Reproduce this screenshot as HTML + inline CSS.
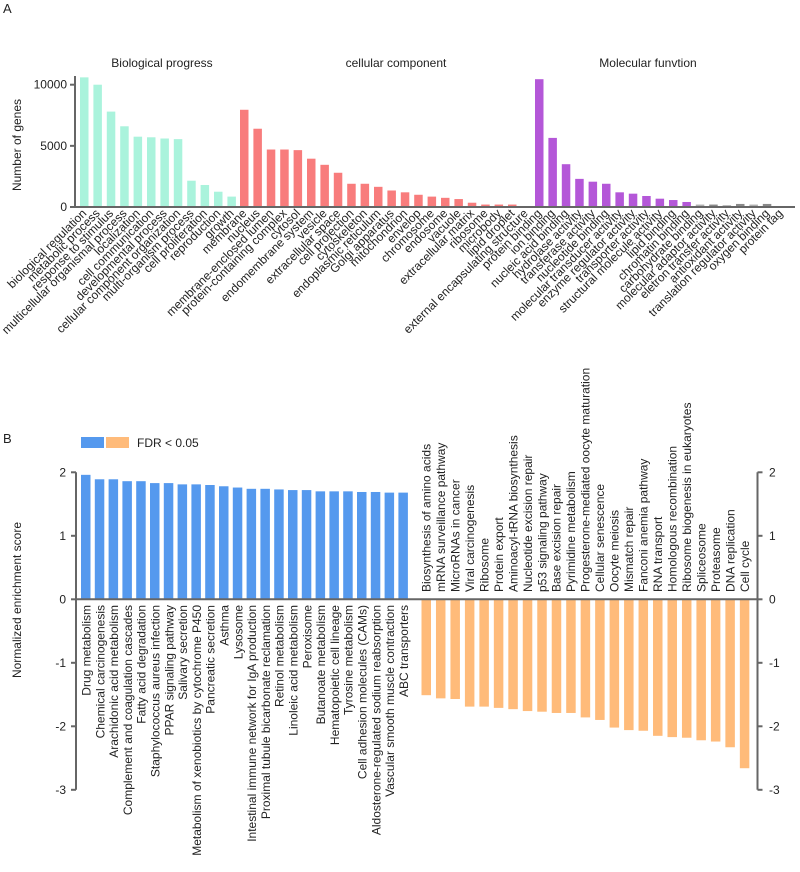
<!DOCTYPE html>
<html><head><meta charset="utf-8">
<style>
html,body{margin:0;padding:0;background:#fff;}
svg{display:block;font-family:"Liberation Sans",Arial,sans-serif;}
</style></head>
<body>
<svg id="chart" width="800" height="872" viewBox="0 0 800 872" xmlns="http://www.w3.org/2000/svg">
<text x="3" y="13" font-size="13" fill="#222">A</text>
<text x="3" y="443" font-size="13" fill="#222">B</text>
<text x="162" y="67" font-size="12" text-anchor="middle" fill="#222">Biological progress</text>
<text x="396" y="67" font-size="12" text-anchor="middle" fill="#222">cellular component</text>
<text x="648" y="67" font-size="12" text-anchor="middle" fill="#222">Molecular funvtion</text>
<text transform="translate(21,145) rotate(-90)" font-size="12" text-anchor="middle" fill="#222">Number of genes</text>
<text transform="translate(21,600) rotate(-90)" font-size="12" text-anchor="middle" fill="#222">Normalized enrichment score</text>
<rect x="81" y="437" width="23" height="11" fill="#5599ee"/>
<rect x="106" y="437" width="23" height="11" fill="#ffbb7a"/>
<text x="137" y="447" font-size="12" fill="#222">FDR &lt; 0.05</text>
<g id="ga"></g>
<g id="gb"></g>
</svg>
<script>
const bpLabels=["biological regulation","metabolic process","response to stimulus","multicellular organismal process","localization","cell communication","developmental process","cellular component organization","multi-organism process","cell proliferation","reproduction","growth"];
const bpValues=[10600,10000,7800,6600,5750,5700,5600,5550,2150,1800,1250,850];
const ccLabels=["membrane","nucleus","membrane-enclosed lumen","protein-containing complex","cytosol","endomembrane system","vesicle","extracellular space","cell projection","cytoskeleton","endoplasmic reticulum","Golgi apparatus","mitochondrion","envelop","chromosome","endosome","vacuole","extracellular matrix","ribosome","microbody","lipid droplet","external encapsulating structure"];
const ccValues=[7950,6400,4700,4700,4650,3950,3450,2800,1900,1900,1650,1350,1200,1000,850,750,650,350,200,200,200,0];
const mfLabels=["protein binding","ion binding","nucleic acid binding","hydrolase activity","transferase activity","nucleotide binding","molecular transducer activity","enzyme regulator activity","transporter activity","structural molecule activity","lipid binding","chromatin binding","carbohydrate binding","molecular adaptor activity","eletron transfer activity","antioxidant activity","translation regulator activity","oxygen binding","protein tag"];
const mfValues=[10450,5650,3500,2300,2070,1900,1200,1090,900,680,570,410,200,200,150,250,200,250,0];
const aTicks=[0,5000,10000];

const upLabels=["Drug metabolism","Chemical carcinogenesis","Arachidonic acid metabolism","Complement and coagulation cascades","Fatty acid degradation","Staphylococcus aureus infection","PPAR signaling pathway","Salivary secretion","Metabolism of xenobiotics by cytochrome P450","Pancreatic secretion","Asthma","Lysosome","Intestinal immune network for IgA production","Proximal tubule bicarbonate reclamation","Retinol metabolism","Linoleic acid metabolism","Peroxisome","Butanoate metabolism","Hematopoietic cell lineage","Tyrosine metabolism","Cell adhesion molecules (CAMs)","Aldosterone-regulated sodium reabsorption","Vascular smooth muscle contraction","ABC transporters"];
const upValues=[1.96,1.89,1.89,1.86,1.86,1.83,1.83,1.81,1.81,1.80,1.78,1.76,1.74,1.74,1.73,1.72,1.72,1.70,1.70,1.70,1.69,1.69,1.68,1.68];
const downLabels=["Biosynthesis of amino acids","mRNA surveillance pathway","MicroRNAs in cancer","Viral carcinogenesis","Ribosome","Protein export","Aminoacyl-tRNA biosynthesis","Nucleotide excision repair","p53 signaling pathway","Base excision repair","Pyrimidine metabolism","Progesterone-mediated oocyte maturation","Cellular senescence","Oocyte meiosis","Mismatch repair","Fanconi anemia pathway","RNA transport","Homologous recombination","Ribosome biogenesis in eukaryotes","Spliceosome","Proteasome","DNA replication","Cell cycle"];
const downValues=[-1.51,-1.56,-1.57,-1.69,-1.69,-1.71,-1.73,-1.76,-1.77,-1.79,-1.79,-1.86,-1.90,-2.02,-2.06,-2.07,-2.15,-2.17,-2.18,-2.22,-2.24,-2.33,-2.66];
const bTicks=[-3,-2,-1,0,1,2];

const NS="http://www.w3.org/2000/svg";
function mk(parent,tag,attrs,text){const e=document.createElementNS(NS,tag);for(const k in attrs)e.setAttribute(k,attrs[k]);if(text!==undefined)e.textContent=text;parent.appendChild(e);return e;}

// Panel A
const ga=document.getElementById('ga');
const yA=v=>207-v*0.01223;
const stepA=13.4,bw=8.5;
const groups=[
 {labels:bpLabels,values:bpValues,x0:80,color:()=> "#aaf3dc",name:"bp"},
 {labels:ccLabels,values:ccValues,x0:240,color:()=> "#f87c7c",name:"cc"},
 {labels:mfLabels,values:mfValues,x0:535,color:i=> i<12?"#b457d8":(i%2===1?"#8a8a8a":"#b0b0b0"),name:"mf"}
];
groups.forEach(g=>{
 g.values.forEach((v,i)=>{
  const x=g.x0+i*stepA;
  const r=mk(ga,'rect',{x:x,y:yA(v),width:bw,height:207-yA(v),fill:g.color(i)});
  
  
  const cx=x+bw/2+3, cy=214;
  const t=mk(ga,'text',{transform:`translate(${cx},${cy}) rotate(-45)`,'font-size':12,'text-anchor':'end',fill:'#222'},g.labels[i]);
  
  
 });
});
const axA=mk(ga,'path',{d:`M75,76 V207 H795`,stroke:'#666','stroke-width':2,fill:'none'});


aTicks.forEach(t=>{
 mk(ga,'line',{x1:70,x2:75,y1:yA(t),y2:yA(t),stroke:'#666','stroke-width':2});
 const tl=mk(ga,'text',{x:67,y:yA(t)+4,'font-size':12,'text-anchor':'end',fill:'#222'},String(t));
 
 
});

// Panel B
const gb=document.getElementById('gb');
const yB=v=>599.3-v*63.5;
upValues.forEach((v,i)=>{
 const x=81+i*13.8;
 const r=mk(gb,'rect',{x:x,y:yB(v),width:9.5,height:yB(0)-yB(v),fill:'#5599ee'});
 
 
 const t=mk(gb,'text',{transform:`translate(${x+9.5},605) rotate(-90)`,'font-size':12,'text-anchor':'end',fill:'#222'},upLabels[i]);
 
 
});
downValues.forEach((v,i)=>{
 const x=421.5+i*14.47;
 const r=mk(gb,'rect',{x:x,y:yB(0),width:9.5,height:yB(v)-yB(0),fill:'#ffbb7a'});
 
 
 const t=mk(gb,'text',{transform:`translate(${x+9},592) rotate(-90)`,'font-size':12,'text-anchor':'start',fill:'#222'},downLabels[i]);
 
 
});
const axB=mk(gb,'path',{d:`M76,${yB(2)} V${yB(-3)} M76,${yB(0)} H757.5 M757.5,${yB(2)} V${yB(-3)}`,stroke:'#666','stroke-width':2,fill:'none'});


bTicks.forEach(t=>{
 mk(gb,'line',{x1:71,x2:76,y1:yB(t),y2:yB(t),stroke:'#666','stroke-width':2});
 mk(gb,'line',{x1:757.5,x2:762.5,y1:yB(t),y2:yB(t),stroke:'#666','stroke-width':2});
 const l=mk(gb,'text',{x:66,y:yB(t)+4,'font-size':12,'text-anchor':'end',fill:'#222'},String(t));
 
 
 const r=mk(gb,'text',{x:769,y:yB(t)+4,'font-size':12,'text-anchor':'start',fill:'#222'},String(t));
 
 
});
</script>
</body></html>
